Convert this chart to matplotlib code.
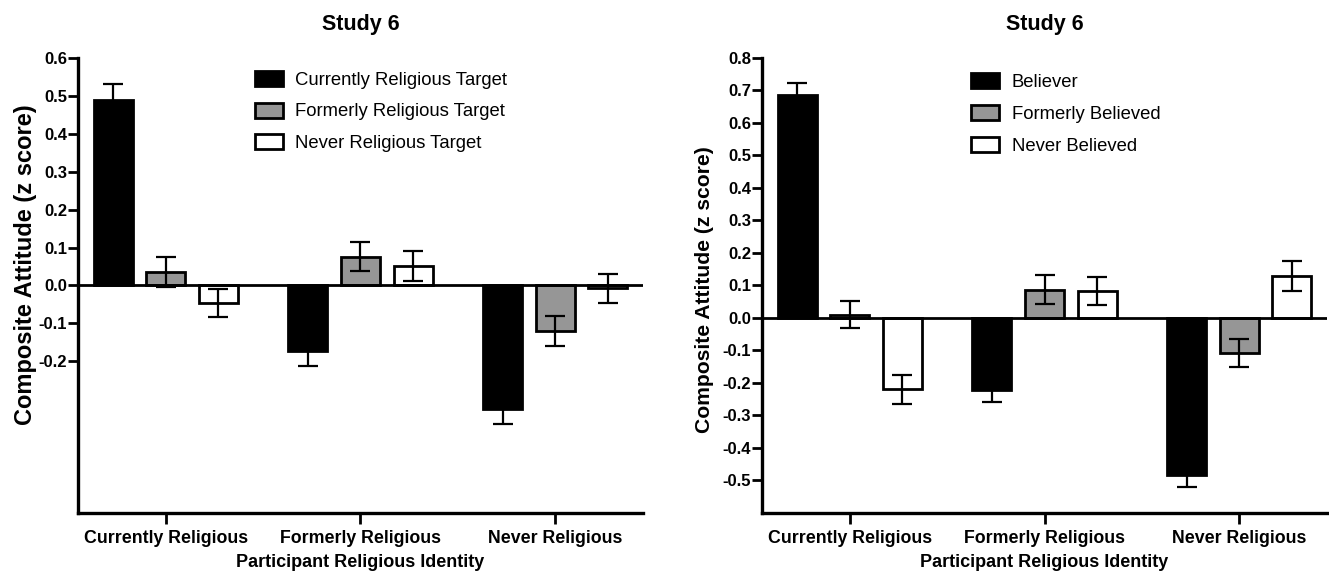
import numpy as np
import matplotlib
matplotlib.use("Agg")
import matplotlib.pyplot as plt
from matplotlib.patches import Patch

plt.rcParams['font.family'] = ['Liberation Sans', 'DejaVu Sans']

# participant groups on the x axis
groups = ['Currently Religious', 'Formerly Religious', 'Never Religious']

# Study 6, target religiosity
left_labels = ['Currently Religious Target', 'Formerly Religious Target', 'Never Religious Target']
left_means = [[0.49, -0.174, -0.326],
              [0.035, 0.076, -0.12],
              [-0.046, 0.052, -0.008]]
left_err = [[0.04, 0.038, 0.04],
            [0.039, 0.039, 0.04],
            [0.037, 0.039, 0.037]]

# Study 6, target belief
right_labels = ['Believer', 'Formerly Believed', 'Never Believed']
right_means = [[0.686, -0.222, -0.484],
               [0.01, 0.087, -0.108],
               [-0.22, 0.084, 0.128]]
right_err = [[0.038, 0.038, 0.037],
             [0.041, 0.044, 0.044],
             [0.044, 0.043, 0.046]]

fills = ['black', '#969696', 'white']
offsets = [-0.27, 0.0, 0.27]
width = 0.2


def panel(ax, means, errs, labels, ylim, yticks, leg_anchor, ylab_size, ylab_y, ylab_pad):
    x = np.arange(len(groups))
    for k in range(3):
        ax.bar(x + offsets[k], means[k], width, color=fills[k],
               edgecolor='black', linewidth=2, zorder=2)
        ax.errorbar(x + offsets[k], means[k], yerr=errs[k], fmt='none',
                    ecolor='black', elinewidth=1.6, capsize=7, capthick=1.6,
                    zorder=3)
    ax.axhline(0, color='black', linewidth=2, zorder=4)
    ax.set_xlim(-0.45, 2.45)
    ax.set_ylim(*ylim)
    ax.set_yticks(yticks)
    ax.set_yticklabels(['%.1f' % t for t in yticks], fontweight='bold', fontsize=12)
    ax.set_xticks(x)
    ax.set_xticklabels(groups, fontweight='bold', fontsize=12.8)
    ax.tick_params(axis='y', length=7, width=2, pad=1)
    ax.tick_params(axis='x', length=8, width=2, pad=4)
    for s in ['top', 'right']:
        ax.spines[s].set_visible(False)
    for s in ['left', 'bottom']:
        ax.spines[s].set_linewidth(2.4)
    ax.set_title('Study 6', fontweight='bold', fontsize=15.5, pad=20)
    ax.set_xlabel('Participant Religious Identity', fontweight='bold', fontsize=13, labelpad=5)
    ax.set_ylabel('Composite Attitude (z score)', fontweight='bold', fontsize=ylab_size,
                  labelpad=ylab_pad)
    ax.yaxis.label.set_y(ylab_y)
    handles = [Patch(facecolor=fills[k], edgecolor='black', linewidth=2, label=labels[k])
               for k in range(3)]
    ax.legend(handles=handles, loc='upper left', bbox_to_anchor=leg_anchor,
              frameon=False, fontsize=13.3, handlelength=1.5, handleheight=0.87,
              handletextpad=0.7, labelspacing=0.76, borderpad=0, borderaxespad=0)


fig = plt.figure(figsize=(13.29, 5.71), dpi=100)
ax1 = fig.add_axes([0.0587, 0.1016, 0.4251, 0.797])
ax2 = fig.add_axes([0.5734, 0.1016, 0.4251, 0.797])

panel(ax1, left_means, left_err, left_labels, (-0.6, 0.6),
      [-0.2, -0.1, 0.0, 0.1, 0.2, 0.3, 0.4, 0.5, 0.6], (0.313, 0.972), 17, 0.545, 1)
panel(ax2, right_means, right_err, right_labels, (-0.6, 0.8),
      [-0.5, -0.4, -0.3, -0.2, -0.1, 0.0, 0.1, 0.2, 0.3, 0.4, 0.5, 0.6, 0.7, 0.8],
      (0.37, 0.966), 15.2, 0.49, 6)

fig.savefig('out.png', dpi=100)
